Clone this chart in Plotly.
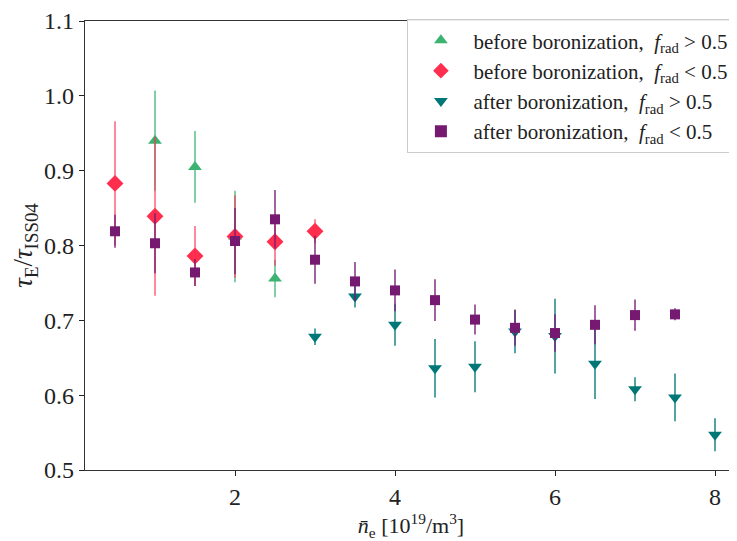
import plotly.graph_objects as go

# before boronization, f_rad > 0.5
x_bg = [1.0, 1.5, 2.0, 2.5]
y_bg = [0.940, 0.905, 0.812, 0.756]
e_bg = [0.067, 0.048, 0.061, 0.025]

# before boronization, f_rad < 0.5
x_br = [0.5, 1.0, 1.5, 2.0, 2.5, 3.0]
y_br = [0.883, 0.839, 0.786, 0.812, 0.805, 0.819]
e_br = [0.083, 0.106, 0.040, 0.055, 0.032, 0.016]

# after boronization, f_rad > 0.5
x_ag = [3.0, 3.5, 4.0, 4.5, 5.0, 5.5, 6.0, 6.5, 7.0, 7.5, 8.0]
y_ag = [0.678, 0.732, 0.694, 0.636, 0.638, 0.685, 0.679, 0.642, 0.608, 0.597, 0.547]
e_ag = [0.011, 0.015, 0.028, 0.039, 0.034, 0.029, 0.050, 0.047, 0.016, 0.032, 0.022]

# after boronization, f_rad < 0.5
x_ar = [0.5, 1.0, 1.5, 2.0, 2.5, 3.0, 3.5, 4.0, 4.5, 5.0, 5.5, 6.0, 6.5, 7.0, 7.5]
y_ar = [0.819, 0.803, 0.764, 0.806, 0.835, 0.781, 0.752, 0.740, 0.727, 0.701, 0.690, 0.683, 0.694, 0.707, 0.708]
e_ar = [0.022, 0.040, 0.018, 0.044, 0.039, 0.032, 0.026, 0.028, 0.028, 0.020, 0.024, 0.025, 0.026, 0.021, 0.008]

x_ticks = [2, 4, 6, 8]
y_ticks = [0.5, 0.6, 0.7, 0.8, 0.9, 1.0, 1.1]

FONT = "Liberation Serif, DejaVu Serif, serif"

series = [
    (x_bg, y_bg, e_bg, "before boronization,  <i>f</i><sub>rad</sub> > 0.5", "#3cb371", "rgba(60,179,113,0.85)", "triangle-up", 12),
    (x_br, y_br, e_br, "before boronization,  <i>f</i><sub>rad</sub> < 0.5", "#ff2e4f", "rgba(255,46,79,0.75)", "diamond", 13),
    (x_ag, y_ag, e_ag, "after boronization,  <i>f</i><sub>rad</sub> > 0.5", "#007777", "rgba(0,119,119,0.9)", "triangle-down", 12),
    (x_ar, y_ar, e_ar, "after boronization,  <i>f</i><sub>rad</sub> < 0.5", "#751a70", "rgba(117,26,112,0.9)", "square", 10),
]

fig = go.Figure()
for xs, ys, es, name, col, ecol, sym, sz in series:
    fig.add_trace(go.Scatter(
        x=xs, y=ys, mode="markers", name=name,
        marker=dict(color=col, symbol=sym, size=sz, line=dict(width=0)),
        error_y=dict(type="data", array=es, visible=True, color=ecol, thickness=1.5, width=0),
    ))

fig.update_layout(
    width=729, height=533,
    margin=dict(l=77, r=0, t=7, b=71),
    paper_bgcolor="white", plot_bgcolor="white",
    font=dict(family=FONT, color="#222", size=22),
    showlegend=True,
    legend=dict(
        x=0.9945, y=1.004, xanchor="right", yanchor="top",
        bgcolor="rgba(255,255,255,0.9)", bordercolor="#cccccc", borderwidth=1,
        font=dict(family=FONT, size=21, color="#222"),
        tracegroupgap=0, itemsizing="constant", itemwidth=55,
    ),
    xaxis=dict(
        range=[0.125, 8.275], tickvals=x_ticks, ticktext=[str(v) for v in x_ticks],
        showgrid=False, zeroline=False, showline=True, linecolor="#333", linewidth=1.2,
        mirror=True, ticks="outside", ticklen=5, tickcolor="#222",
        tickfont=dict(family=FONT, size=24), ticklabeloverflow="allow",
        title=dict(text="<i>n̄</i><sub>e</sub> [10<sup>19</sup>/m<sup>3</sup>]",
                   font=dict(family=FONT, size=22), standoff=6),
    ),
    yaxis=dict(
        range=[0.5, 1.1], tickvals=y_ticks, ticktext=[f"{v:.1f}" for v in y_ticks],
        showgrid=False, zeroline=False, showline=True, linecolor="#333", linewidth=1.2,
        ticks="outside", ticklen=5, tickcolor="#222",
        tickfont=dict(family=FONT, size=24), ticklabeloverflow="allow",
        title=dict(text="<i>τ</i><sub>E</sub>/<i>τ</i><sub>ISS04</sub>",
                   font=dict(family=FONT, size=27), standoff=6),
    ),
)

fig.write_html("out.html")
